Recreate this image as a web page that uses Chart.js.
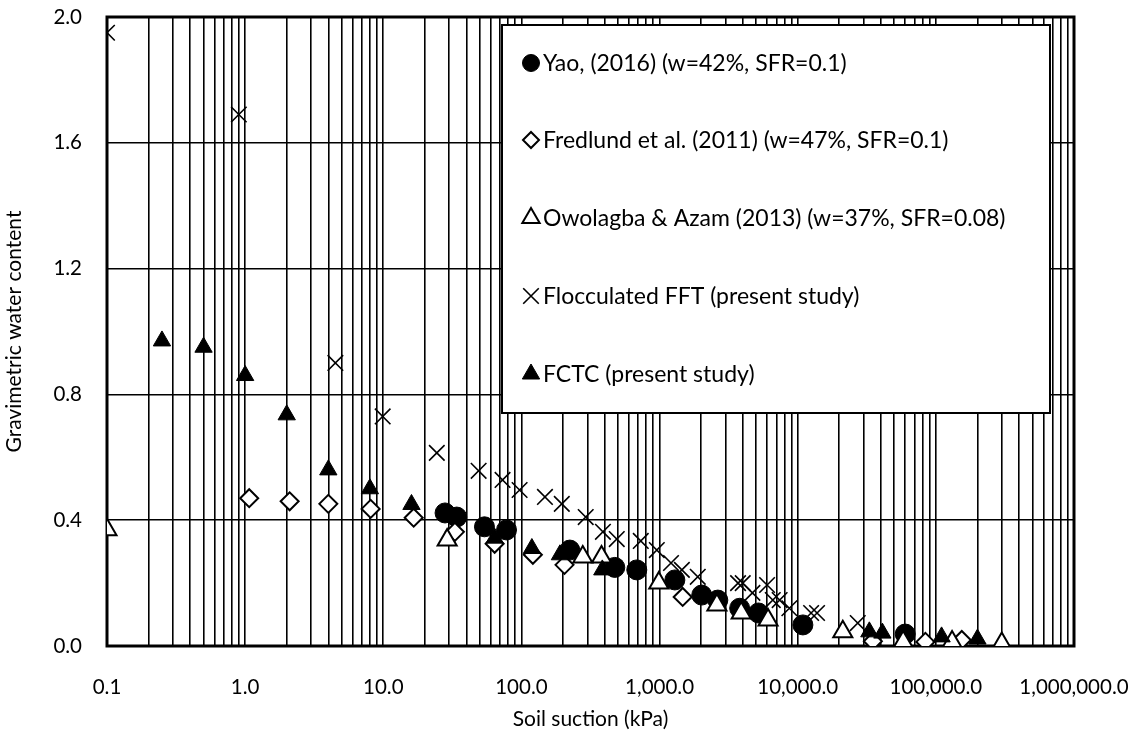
<!DOCTYPE html>
<html>
<head>
<meta charset="utf-8">
<script src="https://cdn.jsdelivr.net/npm/chart.js@4.4.1/dist/chart.umd.min.js"></script>
<style>
  html, body { margin: 0; padding: 0; background: #fff; }
  #wrap { width: 1141px; height: 735px; position: relative; }
</style>
</head>
<body>
<div id="wrap"><canvas id="chartSwcc"></canvas></div>
<script>
// Datos (succión kPa, contenido de agua gravimétrico)
const yaoSuction = [28, 34, 54, 78, 224, 474, 684, 1290, 2020, 2640, 3800, 5200, 10900, 60000];
const yaoWater   = [0.423, 0.41, 0.379, 0.369, 0.305, 0.25, 0.242, 0.21, 0.162, 0.146, 0.12, 0.105, 0.067, 0.038];

const fredSuction = [1.07, 2.1, 4.0, 8.1, 16.6, 33, 64, 121, 205, 1470, 35000, 84000, 154000];
const fredWater   = [0.47, 0.46, 0.452, 0.436, 0.408, 0.363, 0.325, 0.29, 0.258, 0.156, 0.015, 0.013, 0.019];

const owoSuction = [0.1, 29, 278, 380, 987, 2600, 3900, 6100, 21200, 58000, 131000, 300000];
const owoWater   = [0.37, 0.337, 0.283, 0.283, 0.2, 0.13, 0.105, 0.083, 0.045, 0.013, 0.013, 0.008];

const fftSuction = [0.1, 0.9, 4.5, 9.9, 24.4, 49, 73, 97, 148, 196, 292, 389, 490, 731, 955, 1210, 1450, 1890,
                    3700, 4000, 4700, 6000, 6600, 7400, 8700, 12500, 13800, 27200];
const fftWater   = [1.95, 1.69, 0.90, 0.73, 0.614, 0.557, 0.528, 0.496, 0.474, 0.452, 0.41, 0.363, 0.34, 0.334, 0.305, 0.264, 0.242, 0.22,
                    0.2, 0.2, 0.169, 0.194, 0.146, 0.146, 0.12, 0.105, 0.105, 0.073];

const fctcSuction = [0.25, 0.5, 1, 2, 4, 8, 16, 64, 119, 190, 385, 33000, 41000, 110000, 200000];
const fctcWater   = [0.97, 0.95, 0.86, 0.735, 0.56, 0.50, 0.45, 0.343, 0.31, 0.29, 0.242, 0.045, 0.041, 0.029, 0.022];

const seriesNames = [
	'Yao, (2016) (w=42%, SFR=0.1)',
	'Fredlund et al. (2011) (w=47%, SFR=0.1)',
	'Owolagba & Azam (2013) (w=37%, SFR=0.08)',
	'Flocculated FFT (present study)',
	'FCTC (present study)'
];

const xDecades = [0.1, 1, 10, 100, 1000, 10000, 100000, 1000000];
const xTickLabels = ['0.1', '1.0', '10.0', '100.0', '1,000.0', '10,000.0', '100,000.0', '1,000,000.0'];
const yTicks = [0, 0.4, 0.8, 1.2, 1.6, 2.0];
const yTickLabels = ['0.0', '0.4', '0.8', '1.2', '1.6', '2.0'];

const FONT = 'Lato, "Open Sans", sans-serif';

const toPoints = (xs, ys) => xs.map((x, i) => ({x: x, y: ys[i]}));

// lineas de la grilla: 1..9 por cada decada
const xGridValues = [];
xDecades.forEach((d, i) => {
	if (i === xDecades.length - 1) { xGridValues.push(d); return; }
	for (let k = 1; k <= 9; k++) xGridValues.push(Math.round(k * d * 1e6) / 1e6);
});

const styles = [
	{pointStyle: 'circle',   pointRadius: 10, backgroundColor: '#000', borderColor: '#000', borderWidth: 1,   legendRadius: 8.5},
	{pointStyle: 'rectRot',  pointRadius: 9,  backgroundColor: '#fff', borderColor: '#000', borderWidth: 2,   legendRadius: 8},
	{pointStyle: 'triangle', pointRadius: 11, backgroundColor: '#fff', borderColor: '#000', borderWidth: 2,   legendRadius: 10},
	{pointStyle: 'crossRot', pointRadius: 11, backgroundColor: '#000', borderColor: '#000', borderWidth: 1.6, legendRadius: 11},
	{pointStyle: 'triangle', pointRadius: 10, backgroundColor: '#000', borderColor: '#000', borderWidth: 1,   legendRadius: 10}
];

const allData = [
	toPoints(yaoSuction, yaoWater),
	toPoints(fredSuction, fredWater),
	toPoints(owoSuction, owoWater),
	toPoints(fftSuction, fftWater),
	toPoints(fctcSuction, fctcWater)
];

const datasets = allData.map((data, i) => ({
	label: seriesNames[i],
	data: data,
	showLine: false,
	order: 5 - i,
	pointStyle: styles[i].pointStyle,
	pointRadius: styles[i].pointRadius,
	pointHoverRadius: styles[i].pointRadius,
	pointBackgroundColor: styles[i].backgroundColor,
	pointBorderColor: styles[i].borderColor,
	pointBorderWidth: styles[i].borderWidth,
	backgroundColor: styles[i].backgroundColor,
	borderColor: styles[i].borderColor
}));

// marco grueso del area de trazado
const framePlugin = {
	id: 'frame',
	beforeDatasetsDraw(chart) {
		const {ctx, chartArea: a} = chart;
		ctx.save();
		ctx.strokeStyle = '#000';
		ctx.lineWidth = 3;
		ctx.strokeRect(a.left, a.top, a.right - a.left, a.bottom - a.top);
		ctx.restore();
	}
};

// leyenda dentro del grafico con caja blanca
const boxLegend = {
	id: 'boxLegend',
	afterDatasetsDraw(chart) {
		const ctx = chart.ctx;
		const box = {left: 502, top: 25, right: 1050, bottom: 413};
		ctx.save();
		ctx.fillStyle = '#fff';
		ctx.fillRect(box.left, box.top, box.right - box.left, box.bottom - box.top);
		ctx.strokeStyle = '#000';
		ctx.lineWidth = 2;
		ctx.strokeRect(box.left, box.top, box.right - box.left, box.bottom - box.top);
		const rowY = [63, 140, 218, 296, 374];
		seriesNames.forEach((name, i) => {
			const st = styles[i];
			ctx.fillStyle = st.backgroundColor;
			ctx.strokeStyle = st.borderColor;
			ctx.lineWidth = st.borderWidth;
			Chart.helpers.drawPoint(ctx, {pointStyle: st.pointStyle, radius: st.legendRadius, rotation: 0, borderWidth: st.borderWidth}, 531, rowY[i]);
			ctx.fillStyle = '#000';
			ctx.font = '23px ' + FONT;
			ctx.textBaseline = 'middle';
			ctx.textAlign = 'left';
			ctx.fillText(name, 543, rowY[i] + 1);
		});
		ctx.restore();
	}
};

const chartSwcc = new Chart(document.getElementById('chartSwcc'), {
	type: 'scatter',
	data: {datasets: datasets},
	options: {
		responsive: true,
		maintainAspectRatio: false,
		animation: false,
		layout: {padding: {top: 17, right: 67, bottom: 0, left: 0}},
		plugins: {
			legend: {display: false},
			tooltip: {enabled: false}
		},
		scales: {
			x: {
				type: 'logarithmic',
				min: 0.1,
				max: 1000000,
				afterBuildTicks: (scale) => { scale.ticks = xGridValues.map(v => ({value: v})); },
				afterFit: (scale) => {
					scale.height = 89;
					scale.paddingLeft = 0;
					scale.paddingRight = 0;
				},
				ticks: {
					autoSkip: false,
					maxRotation: 0,
					padding: 29,
					color: '#000',
					font: {family: FONT, size: 20.5},
					callback: (value) => {
						const i = xDecades.findIndex(d => Math.abs(d - value) / d < 1e-6);
						return i >= 0 ? xTickLabels[i] : '';
					}
				},
				grid: {color: '#000', lineWidth: 1.6, drawTicks: false},
				border: {display: false},
				title: {
					display: true,
					text: 'Soil suction (kPa)',
					color: '#000',
					font: {family: FONT, size: 21},
					padding: {top: 0, bottom: 3}
				}
			},
			y: {
				min: 0,
				max: 2,
				afterBuildTicks: (scale) => { scale.ticks = yTicks.map(v => ({value: v})); },
				afterFit: (scale) => {
					scale.width = 107;
					scale.paddingTop = 0;
					scale.paddingBottom = 0;
				},
				ticks: {
					padding: 25,
					color: '#000',
					font: {family: FONT, size: 20.5},
					callback: (value) => {
						const i = yTicks.findIndex(t => Math.abs(t - value) < 1e-9);
						return i >= 0 ? yTickLabels[i] : '';
					}
				},
				grid: {color: '#000', lineWidth: 1.6, drawTicks: false},
				border: {display: false},
				title: {
					display: true,
					text: 'Gravimetric water content',
					color: '#000',
					font: {family: FONT, size: 21},
					padding: {top: 2, bottom: 0}
				}
			}
		}
	},
	plugins: [framePlugin, boxLegend]
});
</script>
</body>
</html>
